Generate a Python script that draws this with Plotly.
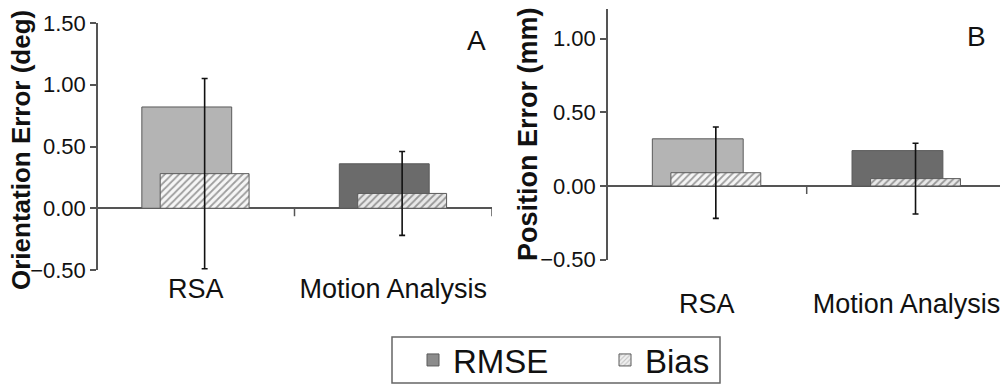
import plotly.graph_objects as go

# ---------------- data ----------------
categories = ["RSA", "Motion Analysis"]
series_names = ["RMSE", "Bias"]

orient_rmse = [0.82, 0.36]
orient_bias = [0.28, 0.12]
orient_bias_sd = [0.77, 0.34]

pos_rmse = [0.32, 0.24]
pos_bias = [0.09, 0.05]
pos_bias_sd = [0.31, 0.24]

yticks_a = [-0.5, 0.0, 0.5, 1.0, 1.5]
yticks_b = [-0.5, 0.0, 0.5, 1.0]
panel_labels = ["A", "B"]
y_titles = ["Orientation Error (deg)", "Position Error (mm)"]

# ---------------- styles ----------------
W, H = 1000, 385
FONT = "Liberation Sans, Arial, sans-serif"
AX = "#555555"
rmse_colors = ["#b4b4b4", "#6b6b6b"]
bias_bg = ["#f6f6f6", "#e8e8e8"]
bias_fg = ["#b0b0b0", "#555555"]
RMSE_OFF, RMSE_W = -0.273, 0.455
BIAS_OFF, BIAS_W = -0.18, 0.45


def px(x):
    return x / W


def py(y):
    return 1 - y / H


fig = go.Figure()

panels = [
    dict(rmse=orient_rmse, bias=orient_bias, sd=orient_bias_sd, xa="x", ya="y"),
    dict(rmse=pos_rmse, bias=pos_bias, sd=pos_bias_sd, xa="x2", ya="y2"),
]

for p in panels:
    fig.add_trace(go.Bar(
        x=categories, y=p["rmse"], name=series_names[0], showlegend=False,
        xaxis=p["xa"], yaxis=p["ya"], offset=RMSE_OFF, width=RMSE_W,
        marker=dict(color=rmse_colors, line=dict(color="#5a5a5a", width=1)),
    ))
    fig.add_trace(go.Bar(
        x=categories, y=p["bias"], name=series_names[1], showlegend=False,
        xaxis=p["xa"], yaxis=p["ya"], offset=BIAS_OFF, width=BIAS_W,
        marker=dict(color=bias_bg, line=dict(color="#5a5a5a", width=1),
                    pattern=dict(shape="/", fgcolor=bias_fg, bgcolor=bias_bg,
                                 size=5, solidity=0.35)),
        error_y=dict(type="data", array=p["sd"], symmetric=True,
                     color="#111111", thickness=1.6, width=3),
    ))

# legend-only entries (one small legend each, framed by a common box)
fig.add_trace(go.Bar(x=[None], y=[None], name=series_names[0], xaxis="x", yaxis="y",
                     legend="legend",
                     marker=dict(color="#8c8c8c", line=dict(color="#5a5a5a", width=1))))
fig.add_trace(go.Bar(x=[None], y=[None], name=series_names[1], xaxis="x", yaxis="y",
                     legend="legend2",
                     marker=dict(color="#f0f0f0", line=dict(color="#5a5a5a", width=1),
                                 pattern=dict(shape="/", fgcolor="#9a9a9a",
                                              bgcolor="#f0f0f0", size=4, solidity=0.35))))

yax_common = dict(
    showgrid=False, zeroline=True, zerolinecolor=AX, zerolinewidth=1.5,
    showline=True, linecolor=AX, linewidth=1.5, ticks="outside", ticklen=6,
    tickcolor=AX, tickwidth=1.5, tickformat=".2f", automargin=False,
    tickfont=dict(family=FONT, size=22, color="#111111"), fixedrange=True,
)
xax_common = dict(
    showgrid=False, zeroline=False, showline=False, ticks="", automargin=False,
    tickfont=dict(family=FONT, size=27, color="#111111"), fixedrange=True,
    type="category",
)
leg_common = dict(
    orientation="h", xanchor="left", yanchor="middle", y=py(360),
    borderwidth=0, bgcolor="rgba(0,0,0,0)", itemwidth=30,
    font=dict(family=FONT, size=33, color="#111111"),
)

fig.update_layout(
    width=W, height=H,
    margin=dict(l=0, r=0, t=0, b=0, autoexpand=False),
    paper_bgcolor="white", plot_bgcolor="white",
    barmode="overlay",
    font=dict(family=FONT, color="#111111"),
    xaxis=dict(domain=[px(97), px(492)], range=[-0.5, 1.5],
               anchor="free", position=py(270), **xax_common),
    yaxis=dict(domain=[py(270), py(23)], range=[-0.5, 1.5],
               tickvals=yticks_a, anchor="free", position=px(97), **yax_common),
    xaxis2=dict(domain=[px(607), 1.0], range=[-0.5, 1.468],
                anchor="free", position=py(285), **xax_common),
    yaxis2=dict(domain=[py(259.7), py(9.1)], range=[-0.5, 1.2],
                tickvals=yticks_b, anchor="free", position=px(607), **yax_common),
    legend=dict(x=px(413), **leg_common),
    legend2=dict(x=px(605), **leg_common),
    showlegend=True,
)

# legend frame
fig.add_shape(type="rect", xref="paper", yref="paper",
              x0=px(392), x1=px(720), y0=py(383), y1=py(337),
              line=dict(color="#666666", width=1.5), fillcolor="rgba(0,0,0,0)",
              layer="below")

# category separator tick marks hanging below the zero line
for xa, ya, xs in [("x", "y", [0.5, 1.5]), ("x2", "y2", [0.5])]:
    for xv in xs:
        fig.add_shape(type="line", xref=xa, yref=ya, x0=xv, x1=xv,
                      ysizemode="pixel", yanchor=0, y0=0, y1=-8,
                      line=dict(color=AX, width=1.5))

# axis titles
fig.add_annotation(text=y_titles[0], xref="paper", yref="paper", x=px(21), y=py(150),
                   xanchor="center", yanchor="middle", textangle=-90, showarrow=False,
                   font=dict(family=FONT, size=26, color="#111111", weight="bold"))
fig.add_annotation(text=y_titles[1], xref="paper", yref="paper", x=px(528), y=py(134),
                   xanchor="center", yanchor="middle", textangle=-90, showarrow=False,
                   font=dict(family=FONT, size=27, color="#111111", weight="bold"))

# panel letters
fig.add_annotation(text=panel_labels[0], xref="paper", yref="paper", x=px(476), y=py(40),
                   xanchor="center", yanchor="middle", showarrow=False,
                   font=dict(family=FONT, size=28, color="#111111"))
fig.add_annotation(text=panel_labels[1], xref="paper", yref="paper", x=px(976), y=py(36),
                   xanchor="center", yanchor="middle", showarrow=False,
                   font=dict(family=FONT, size=28, color="#111111"))

fig.write_html("out.html", config={"displayModeBar": False},
               post_script="document.body.style.margin='0';")
